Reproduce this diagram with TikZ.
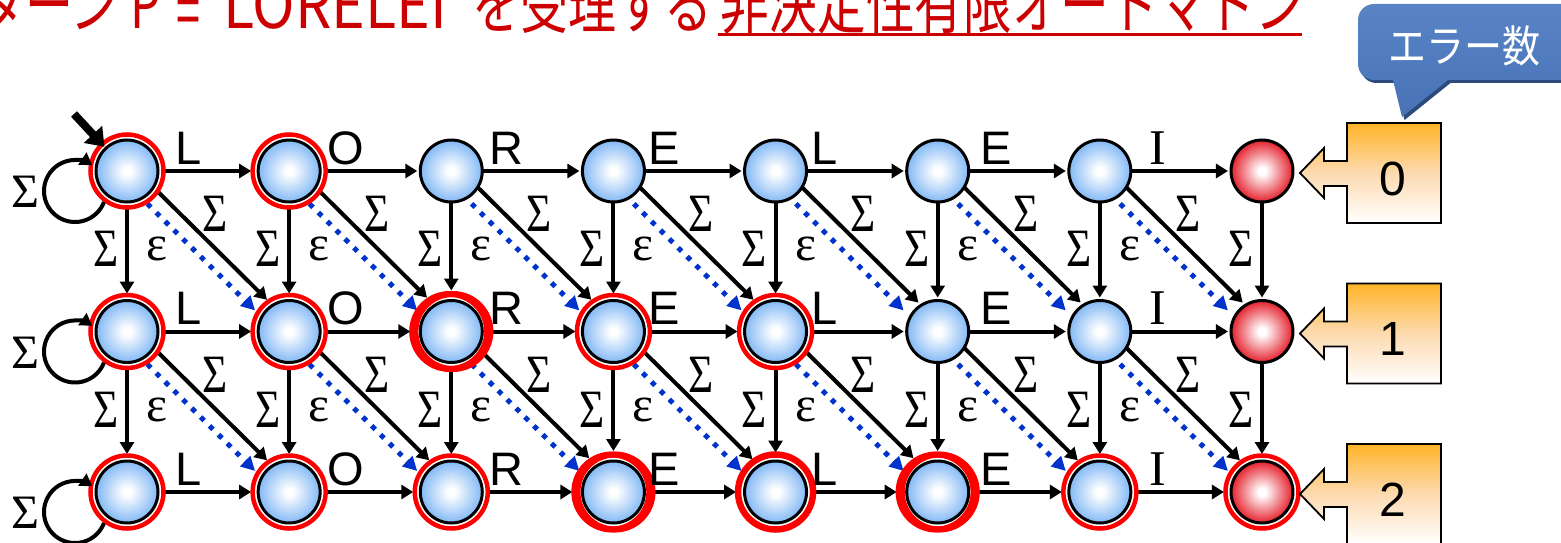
\documentclass[tikz,border=0pt]{standalone}
\usepackage{fontspec}
\usepackage{graphicx}
\setmainfont{Liberation Sans}
\newfontfamily\jpfont{Noto Sans CJK JP}
\newfontfamily\grfont{Liberation Serif}
\usetikzlibrary{calc,arrows.meta}
\definecolor{ttlred}{RGB}{204,0,0}
\definecolor{ringred}{RGB}{255,0,0}
\definecolor{nblue}{RGB}{130,184,245}
\definecolor{nred}{RGB}{228,32,44}
\definecolor{dotblue}{RGB}{0,51,204}
\definecolor{bubtop}{RGB}{88,132,198}
\definecolor{bubbot}{RGB}{72,114,182}
\definecolor{bubdark}{RGB}{44,74,124}
\definecolor{boxorange}{RGB}{255,180,40}
\definecolor{boxpeach}{RGB}{253,218,176}
\pgfdeclareradialshading{bluenode}{\pgfpoint{0bp}{0bp}}{color(0bp)=(white); color(3bp)=(white); color(25bp)=(nblue); color(50bp)=(nblue)}
\pgfdeclareradialshading{rednode}{\pgfpoint{0bp}{0bp}}{color(0bp)=(white); color(3bp)=(white); color(25bp)=(nred); color(50bp)=(nred)}
\pgfdeclarelayer{edgelayer}
\pgfdeclarelayer{ringlayer}
\pgfsetlayers{edgelayer,ringlayer,main}
\newcommand\getsh[2]{\ifcsname rg#1-#2\endcsname\edef\sh{\csname rg#1-#2\endcsname pt}\else\def\sh{34pt}\fi}
\tikzset{
  stnode/.style={circle, draw=black, line width=3pt, minimum size=62pt, inner sep=0pt, shading=bluenode},
  accnode/.style={stnode, shading=rednode},
  tr/.style={line width=4pt, -{Triangle[length=12pt,width=14pt]}},
  epsedge/.style={draw=dotblue, line width=5pt, dash pattern=on 5pt off 7.5pt, -{Triangle[length=14pt,width=14pt]}},
  siglab/.style={font=\grfont\fontsize{54}{54}\selectfont, inner sep=0pt},
  epslab/.style={font=\grfont\fontsize{50}{50}\selectfont, inner sep=0pt},
  lett/.style={font=\fontsize{47}{48}\selectfont, inner sep=0pt, anchor=base west},
  ttl/.style={text=ttlred, font=\jpfont\fontsize{48}{50}\selectfont, inner sep=0pt},
  numlab/.style={font=\fontsize{48}{50}\selectfont, inner sep=0pt, anchor=base},
  errbox/.style={draw=black, line width=1.8pt, top color=boxorange, bottom color=white, middle color=boxpeach}
}
\begin{document}
\begin{tikzpicture}[x=1pt,y=-1pt]
\useasboundingbox (0,0) rectangle (1561,543);

% title
\node[ttl, anchor=base east] (t1) at (119,29) {\scalebox{1}[1.35]{パターン}};
\node[ttl, anchor=base west] (t2) at (130,29) {\scalebox{1}[1.35]{P}};
\node[ttl, anchor=base west] (t3) at (176,38) {\scalebox{0.9}[1.5]{=}};
\node[ttl, anchor=base west] (t4) at (223,29) {\resizebox{224pt}{1.35\height}{LORELEI}};
\node[ttl, anchor=base west] (t5) at (472,29) {\scalebox{1}[1.35]{を受理する}};
\node[ttl, anchor=base west] (t6) at (720,29) {\resizebox{584pt}{1.35\height}{非決定性有限オートマトン}};
\draw[ttlred, line width=3pt] ($(t6.base west)+(-2,6)$) -- ($(t6.base east)+(-2,6)$);

% speech bubble
\fill[bubdark] (1395.5,83) [rounded corners=16pt] -- (1360.5,83) -- (1360.5,7) -- (1590,7) -- (1590,83) [sharp corners] -- (1450.5,83) -- (1404.5,120) -- cycle;
\shade[top color=bubtop, bottom color=bubbot] (1393,80) [rounded corners=16pt] -- (1358,80) -- (1358,4) -- (1588,4) -- (1588,80) [sharp corners] -- (1448,80) -- (1402,117) -- cycle;
\node[text=white, font=\jpfont\fontsize{38}{40}\selectfont, inner sep=0pt] (bt) at (1464,46) {\scalebox{1}[1.15]{エラー数}};

% error count boxes
\foreach \k in {0,1,2}{
  \pgfmathsetmacro\yy{123+160.5*\k}
  \draw[errbox] (1347,\yy) -- (1441,\yy) -- (1441,\yy+100) -- (1347,\yy+100) -- (1347,\yy+63) -- (1324,\yy+63) -- (1324,\yy+75) -- (1300,\yy+50) -- (1324,\yy+25) -- (1324,\yy+38) -- (1347,\yy+38) -- cycle;
  \node[numlab] (bn\k) at (1393,\yy+72) {\k};
}

% states
\foreach \r in {0,1,2}{
  \foreach \c in {0,...,6}{
    \node[stnode] (n\r\c) at ({127+162.14*\c},{171+160.5*\r}) {};
  }
  \node[accnode] (n\r7) at ({127+162.14*7},{171+160.5*\r}) {};
}

% red rings
\begin{pgfonlayer}{ringlayer}
\foreach \r/\c/\k in {0/0/1,0/1/1,1/0/1,1/1/1,1/2/3,1/3/1,1/4/1,2/0/1,2/1/1,2/2/1,2/3/3,2/4/2,2/5/3,2/6/1,2/7/1}{
  \ifcase\k\or
    \draw[ringred, line width=4.5pt, fill=white] (n\r\c.center) circle[radius=36.5pt];
  \or
    \draw[ringred, line width=6.5pt, fill=white] (n\r\c.center) circle[radius=37.5pt];
  \or
    \fill[white] (n\r\c.center) circle[radius=37pt];
    \draw[ringred, line width=6pt] ($(n\r\c.center)+(-1.6,0)$) circle[radius=37.5pt];
    \draw[ringred, line width=6pt] ($(n\r\c.center)+(1.6,0)$) circle[radius=37.5pt];
  \fi
  \expandafter\xdef\csname rg\r-\c\endcsname{\ifcase\k\or 38\or 39.5\or 41\fi}
}
\end{pgfonlayer}

% transitions
\begin{pgfonlayer}{edgelayer}
\foreach \r in {0,1,2}{
  \foreach \c in {0,...,6}{
    \pgfmathtruncatemacro\cn{\c+1}
    \getsh{\r}{\cn}
    \draw[tr, shorten >=\sh] (n\r\c.center) -- (n\r\cn.center);
  }
}
\foreach \r in {0,1}{
  \foreach \c in {0,...,7}{
    \pgfmathtruncatemacro\rn{\r+1}
    \getsh{\rn}{\c}
    \draw[tr, shorten >=\sh] (n\r\c.center) -- (n\rn\c.center);
  }
}
\foreach \r in {0,1}{
  \foreach \c in {0,...,6}{
    \pgfmathtruncatemacro\rn{\r+1}
    \pgfmathtruncatemacro\cn{\c+1}
    \getsh{\rn}{\cn}
    \draw[tr, shorten >=\sh] ($(n\r\c.center)!7pt!90:(n\rn\cn.center)$) -- ($(n\rn\cn.center)!7pt!-90:(n\r\c.center)$);
    \draw[epsedge, shorten >=39pt] ($(n\r\c.center)!9pt!-90:(n\rn\cn.center)$) -- ($(n\rn\cn.center)!9pt!90:(n\r\c.center)$);
  }
}
\end{pgfonlayer}

% self loops
\foreach \r in {0,1,2}{
  \draw[tr] ($(n\r0.center)+(-52,20)+(-21:31pt)$) arc[start angle=-21, end angle=-304, radius=31pt];
  \node[siglab, font=\grfont\fontsize{48}{48}\selectfont] (ls\r) at ($(n\r0.center)+(-102,21)$) {Σ};
}

% initial arrow
\coordinate (init) at (74,114);
\draw[line width=8pt, -{Triangle[length=17pt,width=24pt]}, shorten >=33pt] (init) -- (n00.center);

% labels
\foreach \r in {0,1,2}{
  \foreach \c/\l/\dx in {0/L/48,1/O/38,2/R/38,3/E/35,4/L/36,5/E/43}{
    \node[lett] (lt\r\c) at ($(n\r\c.center)+(\dx,-7)$) {\l};
  }
  \node[lett, font=\grfont\fontsize{50}{50}\selectfont] (lt\r6) at ($(n\r6.center)+(49,-7)$) {I};
}
\foreach \r in {0,1}{
  \foreach \c in {0,...,7}{
    \node[siglab] (vs\r\c) at ($(n\r\c.center)+(-21,78)$) {\scalebox{0.8}[1]{Σ}};
  }
  \foreach \c in {0,...,6}{
    \node[epslab] (ep\r\c) at ($(n\r\c.center)+(30,78)$) {ε};
    \node[siglab] (ds\r\c) at ($(n\r\c.center)+(88,43)$) {\scalebox{0.8}[1]{Σ}};
  }
}
\end{tikzpicture}
\end{document}
